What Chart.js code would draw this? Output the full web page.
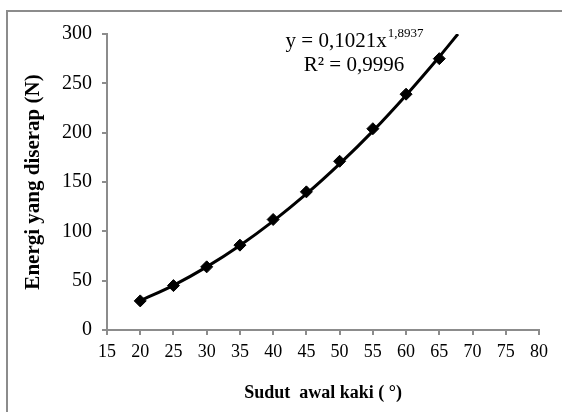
<!DOCTYPE html>
<html>
<head>
<meta charset="utf-8">
<script src="https://cdn.jsdelivr.net/npm/chart.js@4.4.1/dist/chart.umd.min.js"></script>
<style>
  html, body { margin: 0; padding: 0; background: #fff; }
  #wrap { width: 562px; height: 412px; position: relative; }
</style>
</head>
<body>
<div id="wrap"><canvas id="chart"></canvas></div>
<script>
// data
const sudut = [20, 25, 30, 35, 40, 45, 50, 55, 60, 65];
const energi = [29.5, 45, 64, 86, 112, 140, 171, 204, 239, 275];

// points along the power trendline
const trendX = [20, 25, 30, 35, 40, 45, 50, 55, 60, 65, 67.8];
const trendY = [29.7, 45.3, 64, 85.7, 110.4, 137.9, 168.4, 201.6, 238, 277, 300];

const xTicks = { min: 15, max: 80, step: 5 };
const yTicks = { min: 0, max: 300, step: 50 };

const eqText = 'y = 0,1021x';
const eqExp = '1,8937';
const r2Text = 'R\u00B2 = 0,9996';

const SERIF = '"Liberation Serif", "Times New Roman", serif';
const AXIS_GREY = '#8c8c8c';

// gray frame + equation label
const decorPlugin = {
  id: 'decor',
  afterDraw(chart) {
    const ctx = chart.ctx;
    ctx.save();
    ctx.strokeStyle = '#8c8c8c';
    ctx.lineWidth = 2;
    ctx.strokeRect(7, 11, 600, 500);

    ctx.fillStyle = '#000';
    ctx.textBaseline = 'alphabetic';
    ctx.font = '21px ' + SERIF;
    const w1 = ctx.measureText(eqText).width;
    ctx.font = '13px ' + SERIF;
    const w2 = ctx.measureText(eqExp).width;
    const cx = 354;
    let x0 = cx - (w1 + w2) / 2;
    ctx.font = '21px ' + SERIF;
    ctx.fillText(eqText, x0, 47);
    ctx.font = '13px ' + SERIF;
    ctx.fillText(eqExp, x0 + w1 + 1, 37);

    ctx.font = '21px ' + SERIF;
    ctx.textAlign = 'center';
    ctx.fillText(r2Text, cx, 71);
    ctx.restore();
  }
};

new Chart(document.getElementById('chart'), {
  type: 'scatter',
  data: {
    datasets: [
      {
        label: 'Energi',
        data: sudut.map((s, i) => ({ x: s, y: energi[i] })),
        pointStyle: 'rectRot',
        pointRadius: 6,
        pointBackgroundColor: '#000',
        pointBorderColor: '#000',
        showLine: false,
        order: 0
      },
      {
        label: 'Trend',
        data: trendX.map((s, i) => ({ x: s, y: trendY[i] })),
        showLine: true,
        borderColor: '#000',
        borderWidth: 3,
        pointRadius: 0,
        cubicInterpolationMode: 'monotone',
        order: 1
      }
    ]
  },
  options: {
    responsive: true,
    maintainAspectRatio: false,
    animation: false,
    layout: { padding: { left: 0, top: 34, right: 23, bottom: 0 } },
    plugins: {
      legend: { display: false },
      tooltip: { enabled: false }
    },
    scales: {
      x: {
        type: 'linear',
        min: xTicks.min,
        max: xTicks.max,
        afterFit(scale) { scale.height = 82; },
        ticks: {
          stepSize: xTicks.step,
          color: '#000',
          padding: 6,
          font: { family: SERIF, size: 18 }
        },
        grid: { drawOnChartArea: false, drawTicks: true, tickLength: 5, color: AXIS_GREY, lineWidth: 2 },
        border: { color: AXIS_GREY, width: 2 },
        title: {
          display: true,
          text: 'Sudut  awal kaki ( \u00B0)',
          color: '#000',
          font: { family: SERIF, size: 18, weight: 'bold' },
          padding: { top: 0, bottom: 8 }
        }
      },
      y: {
        min: yTicks.min,
        max: yTicks.max,
        afterFit(scale) { scale.width = 107; },
        ticks: {
          stepSize: yTicks.step,
          color: '#000',
          padding: 10,
          font: { family: SERIF, size: 20 }
        },
        grid: { drawOnChartArea: false, drawTicks: true, tickLength: 5, color: AXIS_GREY, lineWidth: 2 },
        border: { color: AXIS_GREY, width: 2 },
        title: {
          display: true,
          text: 'Energi yang diserap (N)',
          color: '#000',
          font: { family: SERIF, size: 21, weight: 'bold' },
          padding: { top: 21, bottom: 0 }
        }
      }
    }
  },
  plugins: [decorPlugin]
});
</script>
</body>
</html>
